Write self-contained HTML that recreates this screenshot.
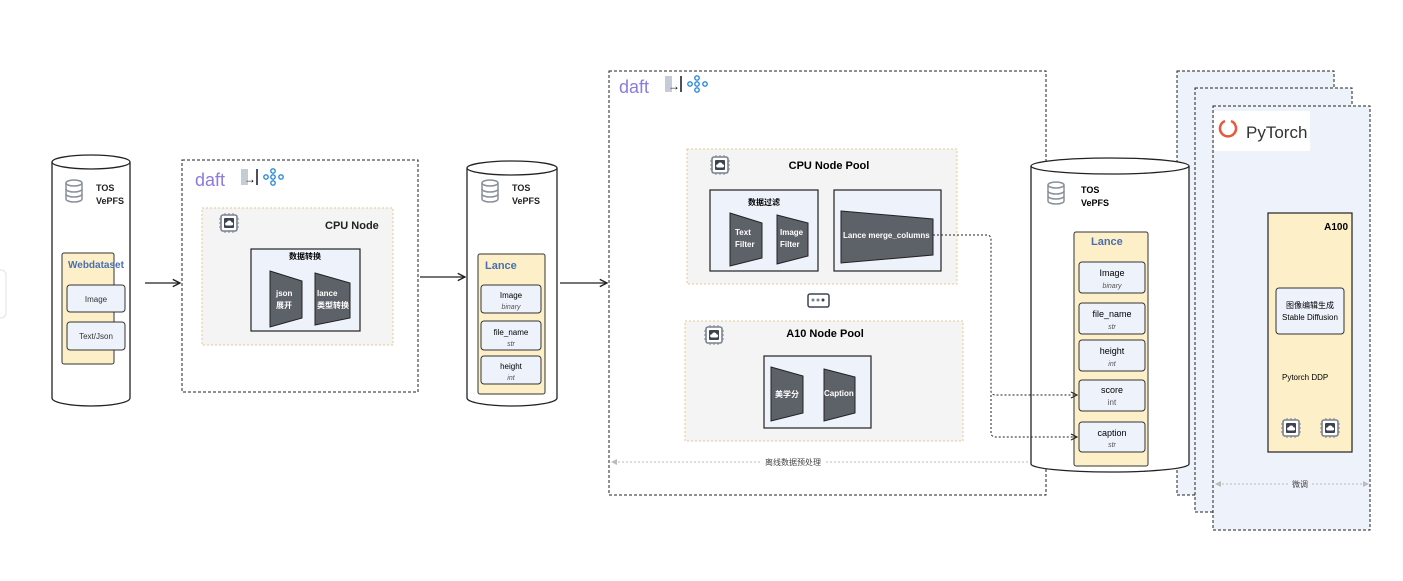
<!DOCTYPE html>
<html><head><meta charset="utf-8"><style>
body{margin:0;background:#fff;}
svg text{font-family:"Liberation Sans","Noto Sans CJK SC",sans-serif;}
</style></head><body>
<svg width="1403" height="576" viewBox="0 0 1403 576" xmlns="http://www.w3.org/2000/svg">
<defs>
<marker id="ar" markerWidth="8" markerHeight="8" refX="7" refY="4" orient="auto"><path d="M1,1 L7,4 L1,7" fill="none" stroke="#222" stroke-width="1.2"/></marker>
<marker id="arg" markerWidth="8" markerHeight="8" refX="4" refY="4" orient="auto"><path d="M7,1 L1,4 L7,7z" fill="#bbb"/></marker>
<marker id="arg2" markerWidth="8" markerHeight="8" refX="4" refY="4" orient="auto"><path d="M1,1 L7,4 L1,7z" fill="#bbb"/></marker>
<g id="chip"><rect x="2" y="2" width="16" height="16" rx="2" fill="#fff" stroke="#7a8290" stroke-width="1.6"/><rect x="5" y="5" width="10" height="10" rx="1" fill="#3d4450"/><path d="M7.5,12.5 h5 a1.6,1.6 0 0 0 0,-3.2 a2.3,2.3 0 0 0 -4.5,0 a1.6,1.6 0 0 0 -0.5,3.2z" fill="#fff"/><path d="M6,0v2M10,0v2M14,0v2M6,18v2M10,18v2M14,18v2M0,6h2M0,10h2M0,14h2M18,6h2M18,10h2M18,14h2" stroke="#7a8290" stroke-width="1"/></g>
<g id="db"><ellipse cx="8" cy="3" rx="8" ry="3" fill="#fff" stroke="#8a909a" stroke-width="1.5"/><path d="M0,3v16a8,3 0 0 0 16,0v-16" fill="none" stroke="#8a909a" stroke-width="1.5"/><path d="M0,9a8,3 0 0 0 16,0M0,14a8,3 0 0 0 16,0" fill="none" stroke="#8a909a" stroke-width="1.5"/></g>
</defs>
<rect x="-6" y="270" width="12" height="48" rx="5" fill="#fff" stroke="#e2e2e2"/>

<!-- cylinder 1 -->
<path d="M52,162 v236 a39,8 0 0 0 78,0 v-236" fill="#fff" stroke="#222" stroke-width="1.3"/>
<ellipse cx="91" cy="162" rx="39" ry="7" fill="#fff" stroke="#222" stroke-width="1.3"/>
<use href="#db" x="66" y="180"/>
<text x="96" y="191" font-size="9" font-weight="bold" fill="#222">TOS</text>
<text x="96" y="204" font-size="9" font-weight="bold" fill="#222">VePFS</text>
<rect x="62" y="253" width="52" height="111" rx="2" fill="#fdf0c8" stroke="#333"/>
<text x="68" y="268" font-size="10" font-weight="bold" fill="#4a6fb0">Webdataset</text>
<rect x="67" y="285" width="58" height="27" rx="3" fill="#eef2fb" stroke="#333"/>
<text x="96" y="302" font-size="8" text-anchor="middle" fill="#333">Image</text>
<rect x="67" y="322" width="58" height="28" rx="3" fill="#eef2fb" stroke="#333"/>
<text x="96" y="339" font-size="8" text-anchor="middle" fill="#333">Text/Json</text>
<line x1="145" y1="283" x2="180" y2="283" stroke="#222" stroke-width="1.2" marker-end="url(#ar)"/>

<!-- daft 1 -->
<rect x="182" y="160" width="236" height="232" fill="#fff" stroke="#222" stroke-dasharray="3,2"/>
<text x="195" y="186" font-size="18" fill="#8b7be0">daft</text>
<rect x="241" y="169" width="7" height="16" fill="#c5ccd6"/><text x="244" y="183" font-size="12" font-weight="bold">→</text><rect x="256" y="169" width="2" height="16" fill="#4a5260"/>
<g stroke="#2a8ad8" fill="#fff" stroke-width="1.4"><circle cx="266" cy="177" r="2.2"/><circle cx="273" cy="171" r="2.2"/><circle cx="273" cy="177" r="2.2"/><circle cx="273" cy="183" r="2.2"/><circle cx="281" cy="177" r="2.2"/></g>
<rect x="202" y="208" width="191" height="137" fill="#f4f4f4" stroke="#e4c98a" stroke-dasharray="2,2"/>
<use href="#chip" x="219" y="213"/>
<text x="325" y="229" font-size="11" font-weight="bold" fill="#222">CPU  Node</text>
<rect x="251" y="249" width="109" height="82" fill="#eef2fb" stroke="#222" stroke-width="1.2"/>
<text x="305" y="259" font-size="8" font-weight="bold" text-anchor="middle">数据转换</text>
<path d="M270,271 L302,281 L302,318 L270,327z" fill="#5d6168" stroke="#222"/>
<path d="M315,273 L350,283 L350,318 L315,325z" fill="#5d6168" stroke="#222"/>
<text x="276" y="296" font-size="8" font-weight="bold" fill="#fff">json</text><text x="276" y="308" font-size="8" font-weight="bold" fill="#fff">展开</text>
<text x="317" y="296" font-size="8" font-weight="bold" fill="#fff">lance</text><text x="317" y="308" font-size="8" font-weight="bold" fill="#fff">类型转换</text>
<line x1="420" y1="277" x2="465" y2="277" stroke="#222" stroke-width="1.2" marker-end="url(#ar)"/>

<!-- cylinder 2 -->
<path d="M467,168 v230 a45,8 0 0 0 90,0 v-230" fill="#fff" stroke="#222" stroke-width="1.3"/>
<ellipse cx="512" cy="168" rx="45" ry="7" fill="#fff" stroke="#222" stroke-width="1.3"/>
<use href="#db" x="482" y="180"/>
<text x="512" y="191" font-size="9" font-weight="bold" fill="#222">TOS</text>
<text x="512" y="204" font-size="9" font-weight="bold" fill="#222">VePFS</text>
<rect x="478" y="254" width="67" height="140" rx="2" fill="#fdf0c8" stroke="#333"/>
<text x="485" y="269" font-size="11" font-weight="bold" fill="#4a6fb0">Lance</text>
<rect x="481" y="285" width="60" height="28" rx="3" fill="#eef2fb" stroke="#333"/>
<text x="511" y="298" font-size="8" text-anchor="middle">Image</text><text x="511" y="309" font-size="7" font-style="italic" text-anchor="middle" fill="#555">binary</text>
<rect x="481" y="321" width="60" height="29" rx="3" fill="#eef2fb" stroke="#333"/>
<text x="511" y="335" font-size="8" text-anchor="middle">file_name</text><text x="511" y="346" font-size="7" font-style="italic" text-anchor="middle" fill="#555">str</text>
<rect x="481" y="356" width="60" height="28" rx="3" fill="#eef2fb" stroke="#333"/>
<text x="511" y="369" font-size="8" text-anchor="middle">height</text><text x="511" y="380" font-size="7" font-style="italic" text-anchor="middle" fill="#555">int</text>
<line x1="560" y1="283" x2="607" y2="283" stroke="#222" stroke-width="1.2" marker-end="url(#ar)"/>

<!-- big daft -->
<rect x="609" y="71" width="437" height="424" fill="#fff" stroke="#222" stroke-dasharray="3,2"/>
<text x="619" y="93" font-size="18" fill="#8b7be0">daft</text>
<rect x="665" y="76" width="7" height="16" fill="#c5ccd6"/><text x="668" y="90" font-size="12" font-weight="bold">→</text><rect x="680" y="76" width="2" height="16" fill="#4a5260"/>
<g stroke="#2a8ad8" fill="#fff" stroke-width="1.4"><circle cx="690" cy="84" r="2.2"/><circle cx="697" cy="78" r="2.2"/><circle cx="697" cy="84" r="2.2"/><circle cx="697" cy="90" r="2.2"/><circle cx="705" cy="84" r="2.2"/></g>
<rect x="687" y="149" width="270" height="135" fill="#f4f4f4" stroke="#e4c98a" stroke-dasharray="2,2"/>
<use href="#chip" x="710" y="155"/>
<text x="829" y="169" font-size="11" font-weight="bold" text-anchor="middle">CPU  Node Pool</text>
<rect x="710" y="190" width="108" height="81" fill="#eef2fb" stroke="#222" stroke-width="1.2"/>
<text x="764" y="205" font-size="8" font-weight="bold" text-anchor="middle">数据过滤</text>
<path d="M730,213 L762,223 L762,258 L730,266z" fill="#5d6168" stroke="#222"/>
<path d="M777,215 L808,223 L808,256 L777,264z" fill="#5d6168" stroke="#222"/>
<text x="735" y="235" font-size="8" font-weight="bold" fill="#fff">Text</text><text x="735" y="247" font-size="8" font-weight="bold" fill="#fff">Filter</text>
<text x="780" y="235" font-size="8" font-weight="bold" fill="#fff">Image</text><text x="780" y="247" font-size="8" font-weight="bold" fill="#fff">Filter</text>
<rect x="834" y="190" width="107" height="81" fill="#eef2fb" stroke="#222" stroke-width="1.2"/>
<path d="M841,211 L933,219 L933,255 L841,263z" fill="#5d6168" stroke="#222"/>
<text x="843" y="238" font-size="8" font-weight="bold" fill="#fff">Lance merge_columns</text>
<rect x="808" y="294" width="21" height="13" rx="2" fill="#fff" stroke="#3d4450" stroke-width="1.5"/>
<circle cx="813" cy="300" r="1.5" fill="#7a8290"/><circle cx="818" cy="300" r="1.5" fill="#7a8290"/><circle cx="823" cy="300" r="1.5" fill="#3d4450"/>
<rect x="685" y="321" width="278" height="120" fill="#f4f4f4" stroke="#e4c98a" stroke-dasharray="2,2"/>
<use href="#chip" x="704" y="325"/>
<text x="825" y="337" font-size="11" font-weight="bold" text-anchor="middle">A10  Node Pool</text>
<rect x="764" y="356" width="107" height="72" fill="#eef2fb" stroke="#222" stroke-width="1.2"/>
<path d="M771,367 L803,376 L803,413 L771,421z" fill="#5d6168" stroke="#222"/>
<path d="M824,369 L855,377 L855,413 L824,421z" fill="#5d6168" stroke="#222"/>
<text x="775" y="397" font-size="8" font-weight="bold" fill="#fff">美学分</text>
<text x="824" y="396" font-size="8" font-weight="bold" fill="#fff">Caption</text>
<line x1="614" y1="462" x2="762" y2="462" stroke="#bbb" stroke-dasharray="2,2" marker-start="url(#arg)"/>
<line x1="826" y1="462" x2="1030" y2="462" stroke="#bbb" stroke-dasharray="2,2"/>
<text x="793" y="465" font-size="8" text-anchor="middle" fill="#444">离线数据预处理</text>

<!-- stacked pytorch -->
<rect x="1177" y="71" width="157" height="424" fill="#eef2fb" stroke="#222" stroke-dasharray="3,2"/>
<rect x="1195" y="88" width="157" height="424" fill="#eef2fb" stroke="#222" stroke-dasharray="3,2"/>
<rect x="1213" y="106" width="157" height="424" fill="#eef2fb" stroke="#222" stroke-dasharray="3,2"/>
<rect x="1214" y="111" width="96" height="40" fill="#fff"/>
<path d="M1225,121 a8,8 0 1 0 6,0" fill="none" stroke="#e45a3a" stroke-width="2.5"/><circle cx="1234" cy="123" r="1.3" fill="#e45a3a"/>
<text x="1246" y="138" font-size="17" fill="#333">PyTorch</text>
<rect x="1268" y="213" width="84" height="239" fill="#fdf0c8" stroke="#222" stroke-width="1.2"/>
<text x="1348" y="230" font-size="10" font-weight="bold" text-anchor="end">A100</text>
<rect x="1276" y="288" width="68" height="46" rx="3" fill="#eef2fb" stroke="#333"/>
<text x="1310" y="308" font-size="8" text-anchor="middle">图像编辑生成</text>
<text x="1310" y="320" font-size="8" text-anchor="middle">Stable Diffusion</text>
<text x="1282" y="380" font-size="8">Pytorch  DDP</text>
<use href="#chip" x="1281" y="418"/><use href="#chip" x="1320" y="418"/>
<line x1="1218" y1="484" x2="1290" y2="484" stroke="#bbb" stroke-dasharray="2,2" marker-start="url(#arg)"/>
<line x1="1312" y1="484" x2="1366" y2="484" stroke="#bbb" stroke-dasharray="2,2" marker-end="url(#arg2)"/>
<text x="1300" y="487" font-size="8" text-anchor="middle" fill="#444">微调</text>

<!-- cylinder 3 -->
<path d="M1031,166 v298 a79,8 0 0 0 158,0 v-298" fill="#fff" stroke="#222" stroke-width="1.3"/>
<ellipse cx="1110" cy="166" rx="79" ry="8" fill="#fff" stroke="#222" stroke-width="1.3"/>
<use href="#db" x="1048" y="182"/>
<text x="1081" y="193" font-size="9" font-weight="bold">TOS</text>
<text x="1081" y="206" font-size="9" font-weight="bold">VePFS</text>
<rect x="1074" y="232" width="74" height="234" rx="2" fill="#fdf0c8" stroke="#333"/>
<text x="1091" y="245" font-size="11" font-weight="bold" fill="#4a6fb0">Lance</text>
<rect x="1079" y="262" width="66" height="31" rx="3" fill="#eef2fb" stroke="#333"/>
<text x="1112" y="276" font-size="9" text-anchor="middle">Image</text><text x="1112" y="288" font-size="7" font-style="italic" text-anchor="middle" fill="#555">binary</text>
<rect x="1079" y="303" width="66" height="31" rx="3" fill="#eef2fb" stroke="#333"/>
<text x="1112" y="317" font-size="9" text-anchor="middle">file_name</text><text x="1112" y="329" font-size="7" font-style="italic" text-anchor="middle" fill="#555">str</text>
<rect x="1079" y="340" width="66" height="31" rx="3" fill="#eef2fb" stroke="#333"/>
<text x="1112" y="354" font-size="9" text-anchor="middle">height</text><text x="1112" y="366" font-size="7" font-style="italic" text-anchor="middle" fill="#555">int</text>
<rect x="1079" y="380" width="66" height="31" rx="3" fill="#eef2fb" stroke="#333"/>
<text x="1112" y="393" font-size="9" text-anchor="middle">score</text><text x="1112" y="405" font-size="8" text-anchor="middle" fill="#555">int</text>
<rect x="1079" y="422" width="66" height="30" rx="3" fill="#eef2fb" stroke="#333"/>
<text x="1112" y="436" font-size="9" text-anchor="middle">caption</text><text x="1112" y="447" font-size="7" font-style="italic" text-anchor="middle" fill="#555">str</text>

<!-- dashed connectors -->
<path d="M933,235 H987 a4,4 0 0 1 4,4 V391 a4,4 0 0 0 4,4 H1077" fill="none" stroke="#222" stroke-dasharray="2,2" marker-end="url(#ar)"/>
<path d="M991,395 V433 a4,4 0 0 0 4,4 H1077" fill="none" stroke="#222" stroke-dasharray="2,2" marker-end="url(#ar)"/>
</svg>
</body></html>
